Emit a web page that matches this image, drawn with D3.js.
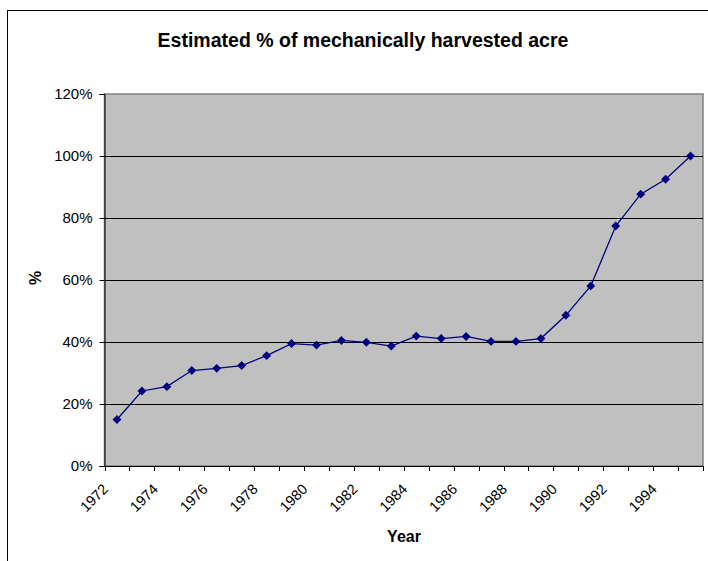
<!DOCTYPE html>
<html>
<head>
<meta charset="utf-8">
<script src="https://cdn.jsdelivr.net/npm/d3@7"></script>
<style>
  html, body { margin: 0; padding: 0; background: #fff; }
  svg { display: block; font-family: "Liberation Sans", Arial, sans-serif; }
</style>
</head>
<body>
<svg id="chart" width="708" height="561"></svg>
<script>
// Estimated share of acreage harvested mechanically, by year
const years = [1972, 1973, 1974, 1975, 1976, 1977, 1978, 1979, 1980, 1981, 1982, 1983,
               1984, 1985, 1986, 1987, 1988, 1989, 1990, 1991, 1992, 1993, 1994, 1995];
const percents = [15.0, 24.2, 25.6, 30.8, 31.5, 32.4, 35.6, 39.5, 39.0, 40.5, 39.9, 38.7,
                  41.9, 41.1, 41.8, 40.2, 40.2, 41.1, 48.6, 58.1, 77.4, 87.7, 92.5, 100.0];
const yTicks = [0, 20, 40, 60, 80, 100, 120];
const xTickLabels = years.filter((y, i) => i % 2 === 0);

const svg = d3.select("#chart");
const plot = { left: 104.5, right: 703, top: 94, bottom: 466 };

// Outer chart frame
svg.append("rect")
  .attr("x", 7.5).attr("y", 10.5)
  .attr("width", 720).attr("height", 580)
  .attr("fill", "#fff").attr("stroke", "#000").attr("stroke-width", 1);

const x = d3.scaleBand().domain(years).range([plot.left, plot.right]);
const y = d3.scaleLinear().domain([0, 120]).range([plot.bottom, plot.top]);

// Plot area
svg.append("rect")
  .attr("x", plot.left).attr("y", plot.top)
  .attr("width", plot.right - plot.left).attr("height", plot.bottom - plot.top)
  .attr("fill", "#C0C0C0").attr("stroke", "#808080").attr("stroke-width", 1.5);

// Horizontal gridlines
svg.append("g").selectAll("line")
  .data(yTicks.filter(t => t > 0 && t < 120))
  .join("line")
  .attr("x1", plot.left).attr("x2", plot.right)
  .attr("y1", d => Math.round(y(d)) + 0.5).attr("y2", d => Math.round(y(d)) + 0.5)
  .attr("stroke", "#000").attr("stroke-width", 1);

// Y axis
const yAxis = svg.append("g")
  .attr("transform", `translate(${plot.left},0)`)
  .call(d3.axisLeft(y).tickValues(yTicks).tickFormat(d => d + "%").tickSize(5).tickPadding(7));
yAxis.select(".domain").attr("stroke", "#000");
yAxis.selectAll(".tick line").attr("stroke", "#000");
yAxis.selectAll(".tick text").attr("font-size", 15).attr("fill", "#000")
  .attr("font-family", "Liberation Sans, Arial, sans-serif");

// X axis: tick marks on category boundaries
const boundaries = years.map(d => x(d)).concat([plot.right]);
const xAxis = svg.append("g");
xAxis.append("line")
  .attr("x1", plot.left).attr("x2", plot.right)
  .attr("y1", plot.bottom + 0.5).attr("y2", plot.bottom + 0.5)
  .attr("stroke", "#000");
xAxis.selectAll(".xtick").data(boundaries).join("line")
  .attr("class", "xtick")
  .attr("x1", d => Math.round(d) + 0.5).attr("x2", d => Math.round(d) + 0.5)
  .attr("y1", plot.bottom).attr("y2", plot.bottom + 5)
  .attr("stroke", "#000");
xAxis.selectAll(".xlabel").data(xTickLabels).join("text")
  .attr("class", "xlabel")
  .attr("transform", d => `translate(${x(d) + x.bandwidth() / 2 - 8},${plot.bottom + 24}) rotate(-45)`)
  .attr("text-anchor", "end")
  .attr("font-size", 14.5)
  .attr("fill", "#000")
  .text(d => d);

// Data line and diamond markers
const cx = d => x(d) + x.bandwidth() / 2;
const line = d3.line().x((d, i) => cx(years[i])).y(d => y(d));
svg.append("path")
  .datum(percents)
  .attr("d", line)
  .attr("fill", "none").attr("stroke", "#000080").attr("stroke-width", 1.3);

svg.append("g").selectAll("path")
  .data(percents)
  .join("path")
  .attr("d", d3.symbol(d3.symbolSquare, 40))
  .attr("transform", (d, i) => `translate(${cx(years[i])},${y(d)}) rotate(45)`)
  .attr("fill", "#000080");

// Titles
svg.append("text")
  .attr("x", 363).attr("y", 47)
  .attr("text-anchor", "middle")
  .attr("font-size", 19.5).attr("font-weight", "bold")
  .text("Estimated % of mechanically harvested acre");

svg.append("text")
  .attr("x", 404).attr("y", 541.5)
  .attr("text-anchor", "middle")
  .attr("font-size", 16).attr("font-weight", "bold")
  .text("Year");

svg.append("text")
  .attr("transform", "translate(40.5,278) rotate(-90)")
  .attr("text-anchor", "middle")
  .attr("font-size", 16).attr("font-weight", "bold")
  .text("%");
</script>
</body>
</html>
